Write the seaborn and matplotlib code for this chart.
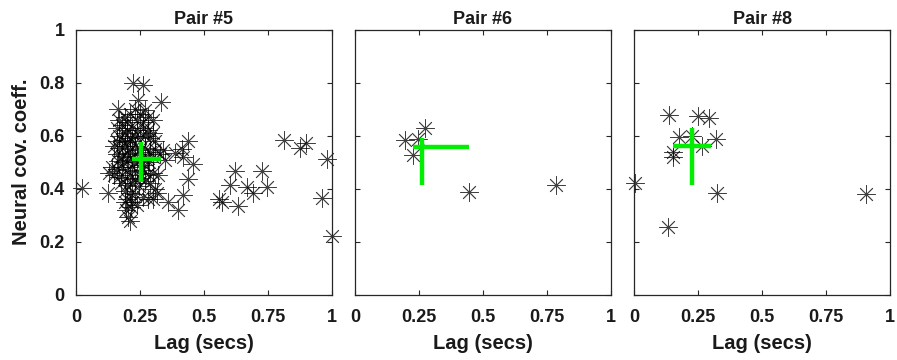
import numpy as np
import pandas as pd
import matplotlib
matplotlib.use("Agg")
import matplotlib.pyplot as plt
import seaborn as sns

# ---------------- data ----------------
titles = ["Pair #5", "Pair #6", "Pair #8"]

p5_lag = [0.224, 0.263, 0.244, 0.165, 0.27, 0.332, 0.19, 0.21, 0.23, 0.25, 0.28, 0.17, 0.30, 0.24, 0.20, 0.26,
          0.16, 0.18, 0.20, 0.22, 0.24, 0.26, 0.28, 0.30, 0.17, 0.19, 0.21, 0.23, 0.25, 0.27, 0.29, 0.31, 0.16, 0.18, 0.20, 0.22,
          0.15, 0.17, 0.19, 0.21, 0.23, 0.25, 0.27, 0.29, 0.31, 0.33, 0.16, 0.18, 0.20, 0.22, 0.24, 0.26, 0.28, 0.30,
          0.165, 0.185, 0.205, 0.225, 0.245, 0.265, 0.285,
          0.14, 0.16, 0.18, 0.20, 0.22, 0.24, 0.26, 0.28, 0.30, 0.32, 0.15, 0.17, 0.19, 0.21, 0.23, 0.25, 0.27, 0.13,
          0.175, 0.20, 0.22, 0.245, 0.29, 0.31,
          0.19, 0.21, 0.23, 0.26, 0.28, 0.20, 0.22, 0.19, 0.197, 0.204, 0.21, 0.215, 0.24, 0.30, 0.315,
          0.025, 0.126, 0.8125, 0.90, 0.877, 0.979, 0.96, 0.999, 0.569, 0.634, 0.60, 0.621, 0.728, 0.667, 0.693, 0.745, 0.56,
          0.436, 0.458, 0.439, 0.419, 0.40, 0.36, 0.387, 0.42, 0.414, 0.348, 0.34]
p5_cov = [0.80, 0.79, 0.735, 0.70, 0.695, 0.728, 0.67, 0.68, 0.70, 0.68, 0.67, 0.66, 0.66, 0.66, 0.65, 0.65,
          0.63, 0.64, 0.62, 0.63, 0.62, 0.63, 0.62, 0.61, 0.60, 0.61, 0.59, 0.60, 0.595, 0.60, 0.59, 0.58, 0.58, 0.585, 0.575, 0.58,
          0.56, 0.555, 0.56, 0.55, 0.56, 0.545, 0.555, 0.54, 0.55, 0.53, 0.53, 0.525, 0.535, 0.52, 0.53, 0.52, 0.515, 0.52,
          0.505, 0.50, 0.51, 0.50, 0.505, 0.49, 0.50,
          0.48, 0.475, 0.48, 0.47, 0.48, 0.465, 0.47, 0.455, 0.46, 0.45, 0.45, 0.445, 0.44, 0.45, 0.435, 0.44, 0.43, 0.46,
          0.42, 0.415, 0.42, 0.41, 0.42, 0.40,
          0.39, 0.385, 0.38, 0.37, 0.36, 0.36, 0.35, 0.35, 0.32, 0.295, 0.28, 0.33, 0.34, 0.36, 0.383,
          0.404, 0.385, 0.584, 0.571, 0.552, 0.511, 0.364, 0.222, 0.351, 0.333, 0.414, 0.468, 0.465, 0.408, 0.385, 0.408, 0.36,
          0.581, 0.493, 0.436, 0.377, 0.32, 0.351, 0.534, 0.52, 0.55, 0.508, 0.545]

p6_lag = [0.194, 0.247, 0.273, 0.228, 0.445, 0.786]
p6_cov = [0.584, 0.589, 0.628, 0.527, 0.389, 0.415]

p8_lag = [0.005, 0.138, 0.249, 0.291, 0.177, 0.226, 0.32, 0.265, 0.154, 0.154, 0.324, 0.134, 0.908]
p8_cov = [0.423, 0.679, 0.675, 0.665, 0.596, 0.60, 0.588, 0.561, 0.54, 0.52, 0.383, 0.255, 0.380]

# green summary cross: median lag / cov with their ranges
cross_lag = [0.254, 0.262, 0.226]
cross_lag_lo = [0.218, 0.228, 0.151]
cross_lag_hi = [0.332, 0.445, 0.299]
cross_cov = [0.511, 0.557, 0.561]
cross_cov_lo = [0.427, 0.414, 0.414]
cross_cov_hi = [0.577, 0.590, 0.628]

xticks = [0, 0.25, 0.5, 0.75, 1]
xticklabels = ["0", "0.25", "0.5", "0.75", "1"]
yticks = [0, 0.2, 0.4, 0.6, 0.8, 1]
yticklabels = ["0", "0.2", "0.4", "0.6", "0.8", "1"]

# ---------------- style ----------------
sns.set_theme(style="white")
plt.rcParams["font.family"] = ["Liberation Sans", "DejaVu Sans"]
plt.rcParams["font.weight"] = "bold"

fig, axes = plt.subplots(1, 3, figsize=(8.97, 3.6), dpi=100, sharey=True)
fig.subplots_adjust(left=0.0847, right=0.9922, bottom=0.181, top=0.918, wspace=0.09)

lags = [p5_lag, p6_lag, p8_lag]
covs = [p5_cov, p6_cov, p8_cov]

for i, ax in enumerate(axes):
    df = pd.DataFrame({"lag": lags[i], "cov": covs[i]})
    sns.scatterplot(data=df, x="lag", y="cov", ax=ax, marker=(8, 2, 0), color="black",
                    s=160, linewidth=0.6, alpha=0.75, legend=False, zorder=2, clip_on=False)
    ax.vlines(cross_lag[i], cross_cov_lo[i], cross_cov_hi[i], color="#00ee00", linewidth=3.2, zorder=3)
    ax.hlines(cross_cov[i], cross_lag_lo[i], cross_lag_hi[i], color="#00ee00", linewidth=3.2, zorder=3)
    ax.set_xlim(0, 1)
    ax.set_ylim(0, 1)
    ax.set_xticks(xticks)
    ax.set_xticklabels(xticklabels, fontsize=13, fontweight="bold", color="#1a1a1a")
    ax.set_yticks(yticks)
    if i == 0:
        ax.set_yticklabels(yticklabels, fontsize=13, fontweight="bold", color="#1a1a1a")
        ax.set_ylabel("Neural cov. coeff.", fontsize=14.5, fontweight="bold", labelpad=6, color="#1a1a1a")
    else:
        ax.set_ylabel("")
        ax.tick_params(axis="y", labelleft=False)
    ax.set_xlabel("Lag (secs)", fontsize=14.5, fontweight="bold", labelpad=6, color="#1a1a1a")
    ax.set_title(titles[i], fontsize=13, fontweight="bold", pad=4, color="#1a1a1a")
    ax.tick_params(direction="in", length=3.5, width=0.8, color="#262626",
                   top=True, right=True, bottom=True, left=True)
    ax.tick_params(axis="x", pad=10)
    ax.tick_params(axis="y", pad=8)
    for sp in ax.spines.values():
        sp.set_visible(True)
        sp.set_color("#262626")
        sp.set_linewidth(0.9)

fig.savefig("out.png", dpi=100)
